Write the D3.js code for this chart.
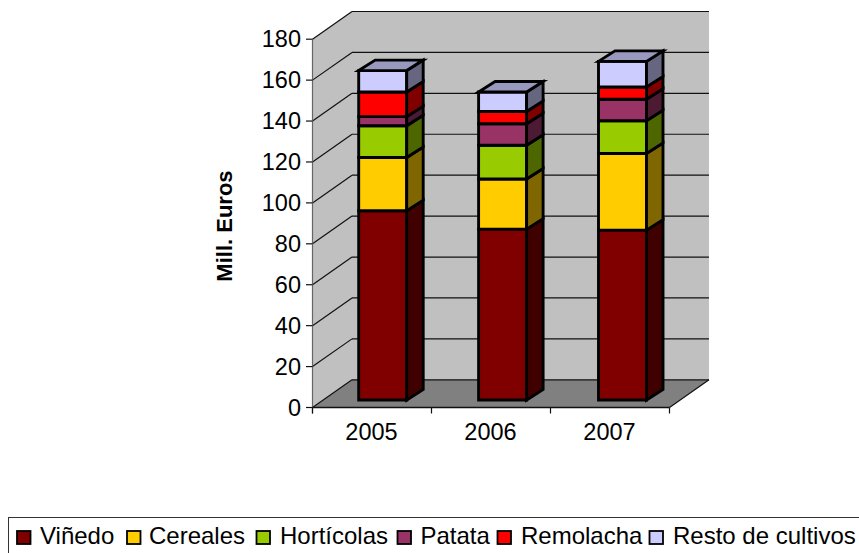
<!DOCTYPE html>
<html><head><meta charset="utf-8">
<script src="https://cdn.jsdelivr.net/npm/d3@7"></script>
<style>html,body{margin:0;padding:0;background:#fff}svg{display:block}text{font-family:"Liberation Sans",Arial,sans-serif;fill:#000}</style>
</head><body><div id="c"></div>
<script>
const years=["2005","2006","2007"];
const seriesNames=["Viñedo","Cereales","Hortícolas","Patata","Remolacha","Resto de cultivos"];
const vinedo=[92.5,83.5,83];
const cereales=[26,24.5,37.5];
const horticolas=[15.5,16.5,16];
const patata=[4.5,10.5,10.5];
const remolacha=[12,6,6];
const resto=[10.5,9.5,12.5];
const yTicks=[0,20,40,60,80,100,120,140,160,180];
const yTitle="Mill. Euros";
const seriesValues=[vinedo,cereales,horticolas,patata,remolacha,resto];
const colors=["#800000","#ffcc00","#99cc00","#993366","#ff0000","#ccccff"];
const sideColors=["#400000","#806600","#4d6600","#4d1a33","#800000","#666680"];
const topColors=["#600000","#bf9900","#739900","#732640","#bf0000","#9999bf"];

const W=859,H=553;
const svg=d3.select("#c").append("svg").attr("width",W).attr("height",H);
// 3D projection constants
const wallDx=39.5,wallDy=27.7,barDx=16.5,barDy=10.5,planeDy=7.5;
const x=d3.scaleBand().domain(years).range([312.5,669.5]);
const barCenter=d3.scalePoint().domain(years).range([382.7,622.5]);
const y=d3.scaleLinear().domain([0,180]).range([407.5,39.2]);
const poly=(pts,fill,stroke,sw)=>svg.append("polygon").attr("points",pts.map(p=>p.join(",")).join(" ")).attr("fill",fill).attr("stroke",stroke||"none").attr("stroke-width",sw||0).attr("stroke-linejoin","miter");
const line=(a,b,stroke,sw)=>svg.append("line").attr("x1",a[0]).attr("y1",a[1]).attr("x2",b[0]).attr("y2",b[1]).attr("stroke",stroke).attr("stroke-width",sw||1);
const x0=x.range()[0],x1=x.range()[1];
// walls
poly([[x0+wallDx,y(180)-wallDy],[x1+wallDx,y(180)-wallDy],[x1+wallDx,y(0)-wallDy],[x0+wallDx,y(0)-wallDy]],"#c0c0c0");
poly([[x0,y(180)],[x0+wallDx,y(180)-wallDy],[x0+wallDx,y(0)-wallDy],[x0,y(0)]],"#c0c0c0");
// floor
poly([[x0,y(0)],[x0+wallDx,y(0)-wallDy],[x1+wallDx,y(0)-wallDy],[x1,y(0)]],"#808080");
// gridlines
yTicks.forEach(t=>{
  line([x0,y(t)],[x0+wallDx,y(t)-wallDy],"#111",1.2);
  line([x0+wallDx,y(t)-wallDy],[x1+wallDx,y(t)-wallDy],"#111",1.2);
});
line([x1,y(0)],[x1+wallDx,y(0)-wallDy],"#111",1.2);
// axes
line([x0,y(180)],[x0,y(0)+6],"#666",1.2);
line([x0,y(0)],[x1,y(0)],"#111",1.5);
yTicks.forEach(t=>{
  line([x0-6.5,y(t)],[x0,y(t)],"#111",1.2);
  svg.append("text").attr("x",301).attr("y",y(t)+8).attr("text-anchor","end").attr("font-size",23.5).text(t);
});
x.domain().forEach(d=>{line([x(d),y(0)],[x(d),y(0)+6],"#111",1.2);});
line([x1,y(0)],[x1,y(0)+6],"#111",1.2);
years.forEach(d=>{
  svg.append("text").attr("x",x(d)+x.bandwidth()/2-0.5).attr("y",440).attr("text-anchor","middle").attr("font-size",23.5).text(d);
});
// bars
const barW=48;
const yb=v=>y(v)-planeDy;
years.forEach((d,i)=>{
  const l=barCenter(d)-barW/2, r=l+barW;
  let acc=0;
  seriesValues.forEach((s,k)=>{
    const a=acc,b=acc+s[i];acc=b;
    poly([[l,yb(b)],[r,yb(b)],[r,yb(a)],[l,yb(a)]],colors[k],"#000",2.9);
    poly([[r,yb(b)],[r+barDx,yb(b)-barDy],[r+barDx,yb(a)-barDy],[r,yb(a)]],sideColors[k],"#000",2.9);
    if(k===seriesValues.length-1) poly([[l,yb(b)],[l+barDx,yb(b)-barDy],[r+barDx,yb(b)-barDy],[r,yb(b)]],topColors[k],"#000",2.9);
  });
});
// y title
svg.append("text").attr("transform","translate(232,226) rotate(-90)").attr("text-anchor","middle").attr("font-size",22).attr("font-weight","bold").text(yTitle);
// legend
svg.append("rect").attr("x",8.5).attr("y",517.5).attr("width",880).attr("height",60).attr("fill","#fff").attr("stroke","#333").attr("stroke-width",1);
const legendX=[17,127,256.5,397.5,497.5,649.5];
const textX=[40,149,280,420.5,521,673];
seriesNames.forEach((n,k)=>{
  svg.append("rect").attr("x",legendX[k]).attr("y",531).attr("width",13.5).attr("height",13).attr("fill",colors[k]).attr("stroke","#000").attr("stroke-width",1.8);
  svg.append("text").attr("x",textX[k]).attr("y",543.5).attr("font-size",24).text(n);
});
</script></body></html>
